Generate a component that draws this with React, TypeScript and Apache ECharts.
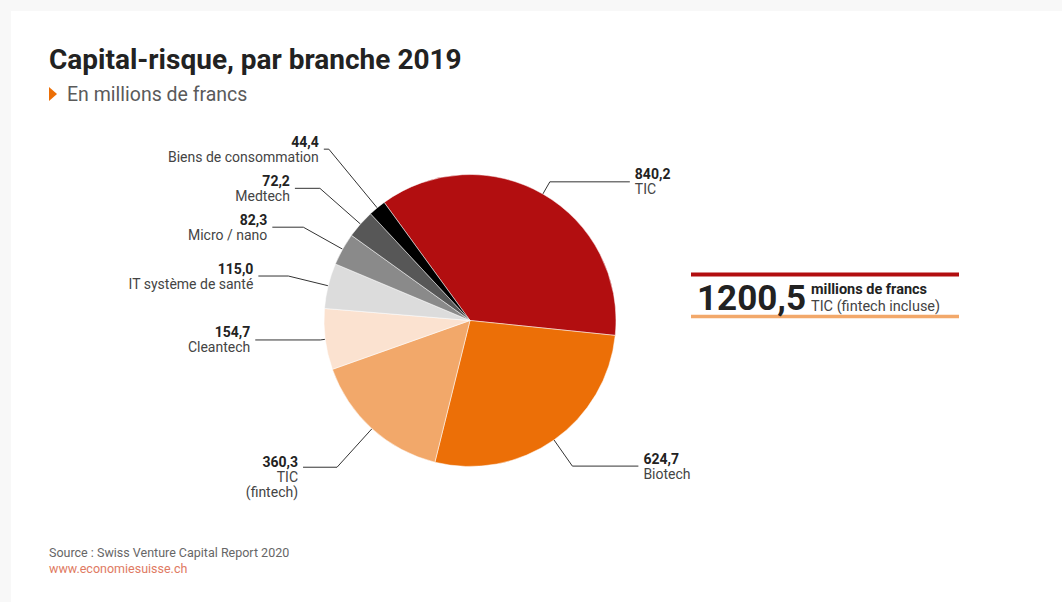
import React, { useEffect, useRef } from "react";
import * as echarts from "echarts";

// ---- data ----
const categories = [
  "TIC",
  "Biotech",
  "TIC\n(fintech)",
  "Cleantech",
  "IT système de santé",
  "Micro / nano",
  "Medtech",
  "Biens de consommation",
];
const values = [840.2, 624.7, 360.3, 154.7, 115.0, 82.3, 72.2, 44.4];
const valueLabels = ["840,2", "624,7", "360,3", "154,7", "115,0", "82,3", "72,2", "44,4"];
const totalTicLabel = "1200,5";
const totalUnitText = "millions de francs";
const totalNoteText = "TIC (fintech incluse)";
const titleText = "Capital-risque, par branche 2019";
const subtitleText = "En millions de francs";
const sourceText = "Source : Swiss Venture Capital Report 2020";
const urlText = "www.economiesuisse.ch";

// ---- styles ----
const FONT = "Roboto, 'Noto Sans', sans-serif";
const sliceColors = ["#b20e10", "#ec6f07", "#f2a86a", "#fbe2d0", "#dcdcdc", "#8a8a8a", "#575757", "#000000"];
const leaderLen = [14, 32, 52, 5, 41, 45, 54, 76];
const leaderLen2 = [80, 66, 34, 65, 30, 31, 25, 5];

export default function App() {
  const ref = useRef<HTMLDivElement>(null);

  useEffect(() => {
    if (!ref.current) return;
    const chart = echarts.init(ref.current, undefined, { renderer: "svg" });

    const option: any = {
      animation: false,
      backgroundColor: "#f8f8f8",
      graphic: [
        { type: "rect", silent: true, z: -10, shape: { x: 11, y: 11, width: 1051, height: 591 }, style: { fill: "#ffffff" } },
        {
          type: "text",
          style: { x: 49, y: 59, text: titleText, font: `bold 28px ${FONT}`, fill: "#222222", textVerticalAlign: "middle" },
        },
        { type: "polygon", shape: { points: [[49, 87], [49, 101], [57, 94]] }, style: { fill: "#ec6f07" } },
        {
          type: "text",
          style: { x: 67, y: 94, text: subtitleText, font: `19.5px ${FONT}`, fill: "#5a5a5a", textVerticalAlign: "middle" },
        },
        { type: "line", shape: { x1: 691, y1: 274.5, x2: 959, y2: 274.5 }, style: { stroke: "#b20e10", lineWidth: 4 } },
        { type: "line", shape: { x1: 691, y1: 316.5, x2: 959, y2: 316.5 }, style: { stroke: "#f2a86a", lineWidth: 3.5 } },
        {
          type: "text",
          style: { x: 697, y: 298, text: totalTicLabel, font: `bold 35px ${FONT}`, fill: "#222222", textVerticalAlign: "middle" },
        },
        {
          type: "text",
          style: { x: 811, y: 289, text: totalUnitText, font: `bold 14.5px ${FONT}`, fill: "#222222", textVerticalAlign: "middle" },
        },
        {
          type: "text",
          style: { x: 811, y: 306, text: totalNoteText, font: `14.5px ${FONT}`, fill: "#444444", textVerticalAlign: "middle" },
        },
        {
          type: "text",
          style: { x: 49, y: 552, text: sourceText, font: `12.5px ${FONT}`, fill: "#666666", textVerticalAlign: "middle" },
        },
        {
          type: "text",
          style: { x: 49, y: 568, text: urlText, font: `12.5px ${FONT}`, fill: "#e07a62", textVerticalAlign: "middle" },
        },
      ],
      series: [
        {
          type: "pie",
          center: [470, 320.5],
          radius: 146,
          startAngle: 126,
          clockwise: true,
          avoidLabelOverlap: false,
          silent: true,
          itemStyle: { borderColor: "#ffffff", borderWidth: 0.5 },
          label: {
            show: true,
            position: "outside",
            distanceToLabelLine: 5,
            fontFamily: FONT,
            formatter: (p: any) => `{v|${valueLabels[p.dataIndex]}}\n{n|${p.name}}`,
            rich: {
              v: { fontFamily: FONT, fontWeight: "bold", fontSize: 14, color: "#222222", lineHeight: 15 },
              n: { fontFamily: FONT, fontSize: 14, color: "#444444", lineHeight: 15 },
            },
          },
          labelLine: { show: true, lineStyle: { color: "#333333", width: 1 } },
          data: values.map((v, i) => ({
            value: v,
            name: categories[i],
            itemStyle: { color: sliceColors[i] },
            labelLine: { length: leaderLen[i], length2: leaderLen2[i] },
            label: i === 2 ? { padding: [20, 0, 0, 0] } : {},
          })),
        },
      ],
    };

    chart.setOption(option);
    return () => chart.dispose();
  }, []);

  return (
    <div
      ref={ref}
      style={{ position: "fixed", left: 0, top: 0, width: 1062, height: 602 }}
    />
  );
}
